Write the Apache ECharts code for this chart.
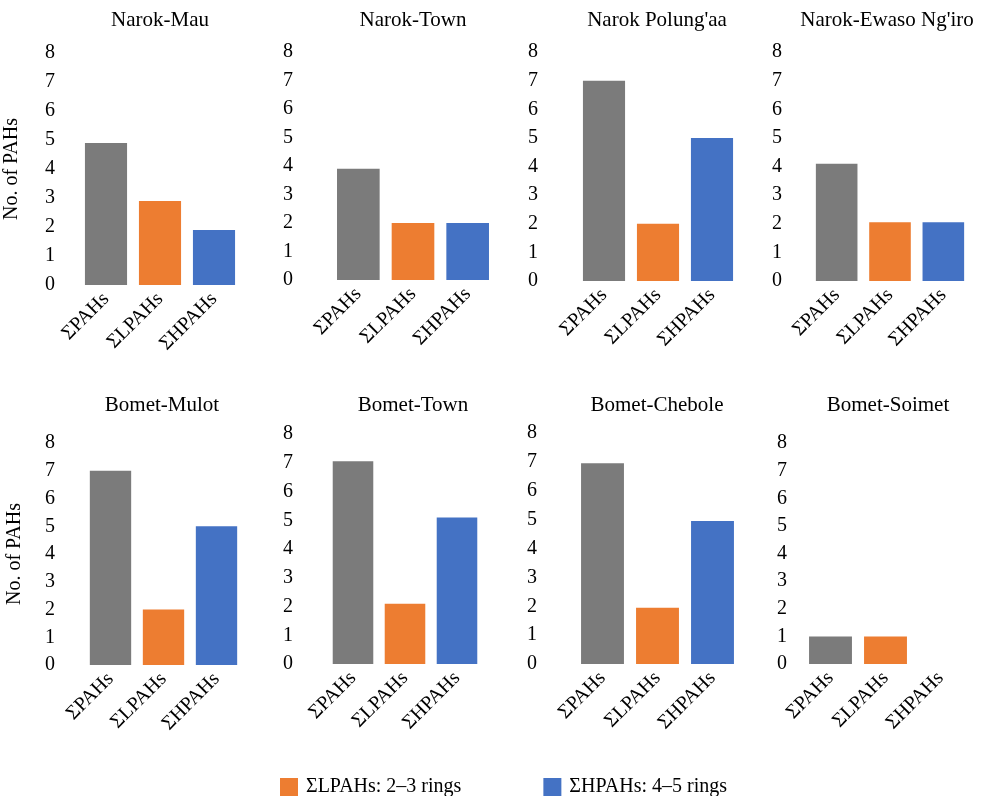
<!DOCTYPE html>
<html>
<head>
<meta charset="utf-8">
<script src="https://cdn.jsdelivr.net/npm/echarts@6/dist/echarts.min.js"></script>
<style>
html,body{margin:0;padding:0;background:#fff;}
#chart{width:981px;height:796px;}
</style>
</head>
<body>
<div id="chart"></div>
<script>
// ---- data ----
const categories = ['ΣPAHs', 'ΣLPAHs', 'ΣHPAHs'];
const sites = ['Narok-Mau', 'Narok-Town', "Narok Polung'aa", "Narok-Ewaso Ng'iro",
               'Bomet-Mulot', 'Bomet-Town', 'Bomet-Chebole', 'Bomet-Soimet'];
const totalPAHs = [4.9, 3.9, 7.0, 4.1, 7.0, 7.05, 6.95, 1.0];
const lowPAHs   = [2.9, 2.0, 2.0, 2.05, 2.0, 2.1, 1.95, 1.0];
const highPAHs  = [1.9, 2.0, 5.0, 2.05, 5.0, 5.1, 4.95, 0];
const yTicks = [0, 1, 2, 3, 4, 5, 6, 7, 8];
const yAxisTitle = 'No. of PAHs';
const legendLow = 'ΣLPAHs: 2–3 rings';
const legendHigh = 'ΣHPAHs: 4–5 rings';

// ---- layout / style ----
const FONT = "'Liberation Serif', 'Times New Roman', serif";
const GRAY = '#7b7b7b', ORANGE = '#ed7d31', BLUE = '#4472c4';
const TXT = '#000';
const panels = [
  {left: 79,  top: 53,  width: 162, height: 232, lm: 24, tx: 160, ty: 10, name: true,  ng: 57},
  {left: 331, top: 52,  width: 164, height: 228, lm: 38, tx: 413, ty: 10},
  {left: 577, top: 52,  width: 162, height: 229, lm: 39, tx: 657, ty: 10},
  {left: 810, top: 52,  width: 160, height: 229, lm: 28, tx: 887, ty: 10},
  {left: 84,  top: 443, width: 159, height: 222, lm: 29, tx: 162, ty: 395, name: true, ng: 59},
  {left: 327, top: 434, width: 156, height: 230, lm: 34, tx: 413, ty: 395},
  {left: 575, top: 433, width: 165, height: 231, lm: 38, tx: 657, ty: 395},
  {left: 803, top: 443, width: 165, height: 221, lm: 16, tx: 888, ty: 395}
];

const grid = [], xAxis = [], yAxis = [], series = [], title = [];
panels.forEach((p, i) => {
  grid.push({left: p.left, top: p.top, width: p.width, height: p.height, containLabel: false});
  title.push({
    text: sites[i], left: p.tx, top: p.ty, textAlign: 'center', padding: 0,
    textStyle: {fontFamily: FONT, fontSize: 21, fontWeight: 'normal', color: TXT}
  });
  xAxis.push({
    type: 'category', gridIndex: i, data: categories,
    axisLine: {show: false}, axisTick: {show: false},
    axisLabel: {rotate: 45, margin: 11, interval: 0, fontFamily: FONT, fontSize: 20, color: TXT}
  });
  yAxis.push({
    type: 'value', gridIndex: i, min: 0, max: yTicks[yTicks.length - 1], interval: 1,
    splitLine: {show: false}, axisLine: {show: false}, axisTick: {show: false},
    axisLabel: {margin: p.lm, fontFamily: FONT, fontSize: 20, color: TXT},
    name: p.name ? yAxisTitle : '', nameLocation: 'middle', nameRotate: 90, nameGap: p.ng || 30,
    nameTextStyle: {fontFamily: FONT, fontSize: 20, color: TXT}
  });
  const common = {type: 'bar', xAxisIndex: i, yAxisIndex: i, stack: 'p' + i, barWidth: '78%', silent: true};
  series.push(Object.assign({}, common, {name: 'ΣPAHs', data: [totalPAHs[i], '-', '-'], itemStyle: {color: GRAY}}));
  series.push(Object.assign({}, common, {name: legendLow, data: ['-', lowPAHs[i], '-'], itemStyle: {color: ORANGE}}));
  series.push(Object.assign({}, common, {name: legendHigh, data: ['-', '-', highPAHs[i]], itemStyle: {color: BLUE}}));
});

const chart = echarts.init(document.getElementById('chart'), null, {renderer: 'canvas'});
chart.setOption({
  backgroundColor: '#fff',
  animation: false,
  title: title,
  grid: grid,
  xAxis: xAxis,
  yAxis: yAxis,
  series: series,
  legend: {
    data: [legendLow, legendHigh],
    left: 280, top: 777, padding: 0,
    icon: 'rect', itemWidth: 18, itemHeight: 18, itemGap: 82,
    selectedMode: false,
    textStyle: {fontFamily: FONT, fontSize: 20, color: TXT, padding: [0, 0, 0, 3]}
  }
});
</script>
</body>
</html>
